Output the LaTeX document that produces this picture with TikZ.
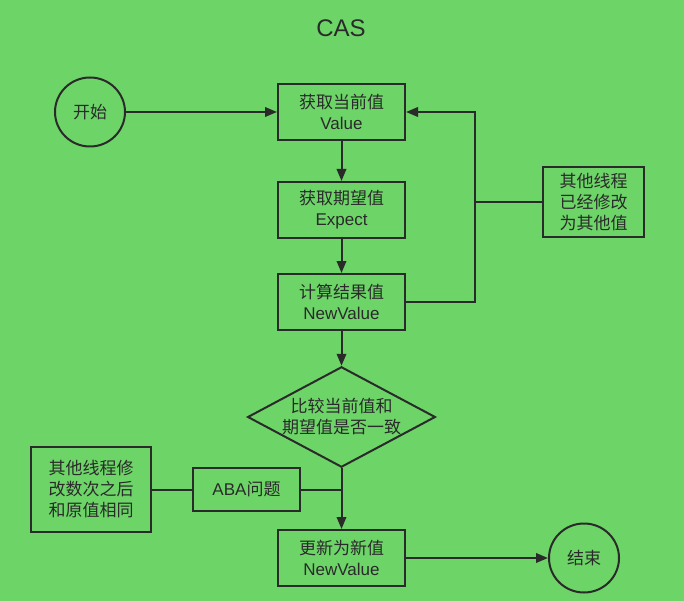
\documentclass[tikz,border=0pt]{standalone}
\usepackage{fontspec}
\setmainfont{Liberation Sans}
\newfontfamily\cjk{Noto Sans CJK SC}
\usetikzlibrary{arrows.meta,shapes.geometric}
\definecolor{bg}{HTML}{6DD468}
\definecolor{ink}{HTML}{2A2A2A}
\begin{document}
\begin{tikzpicture}[x=1pt,y=-1pt,
  every node/.style={font=\fontsize{17}{21}\selectfont, text=ink, align=center, inner sep=0pt},
  box/.style={draw=ink, line width=2pt, fill=bg, rectangle, minimum width=127pt, minimum height=56pt},
  term/.style={draw=ink, line width=2pt, fill=bg, ellipse, minimum width=70pt, minimum height=69pt},
  line/.style={draw=ink, line width=2pt},
  arr/.style={line, -{Triangle[length=12pt,width=9.5pt]}}]
\fill[bg] (0,0) rectangle (684,601);
\useasboundingbox (0,0) rectangle (684,601);

\node[font=\fontsize{24}{28}\selectfont] (title) at (341,28) {CAS};

\node[term] (start) at (90,112) {\cjk 开始};
\node[box] (b1) at (341.5,112) {{\cjk 获取当前值}\\Value};
\node[box] (b2) at (341.5,210) {{\cjk 获取期望值}\\Expect};
\node[box] (b3) at (341.5,302) {{\cjk 计算结果值}\\NewValue};
\node[draw=ink, line width=2pt, fill=bg, diamond, aspect=1.87, minimum width=187pt, minimum height=100pt] (d) at (341.5,417) {{\cjk 比较当前值和}\\{\cjk 期望值是否一致}};
\node[box, minimum width=107pt, minimum height=43pt] (aba) at (246.5,489.5) {ABA{\cjk 问题}};
\node[box, minimum width=120pt, minimum height=85pt] (lb) at (91,489.5) {{\cjk 其他线程修}\\{\cjk 改数次之后}\\{\cjk 和原值相同}};
\node[box] (b4) at (341.5,558) {{\cjk 更新为新值}\\NewValue};
\node[term] (end) at (584,558) {\cjk 结束};
\node[box, minimum width=101pt, minimum height=70pt] (rb) at (593.5,202) {{\cjk 其他线程}\\{\cjk 已经修改}\\{\cjk 为其他值}};

\coordinate (lp) at (475,0);

\draw[arr] (start) -- (b1);
\draw[arr] (b1) -- (b2);
\draw[arr] (b2) -- (b3);
\draw[arr] (b3) -- (d);
\draw[arr] (d.south) -- (b4.north);
\draw[arr] (b4) -- (end);
\draw[arr] (b3.east) -| (lp |- b1.east) -- (b1.east);
\draw[line] (rb.west) -- (rb.west -| lp);
\draw[line] (aba.east) -- (aba.east -| d.south);
\draw[line] (lb.east) -- (aba.west);
\end{tikzpicture}
\end{document}
